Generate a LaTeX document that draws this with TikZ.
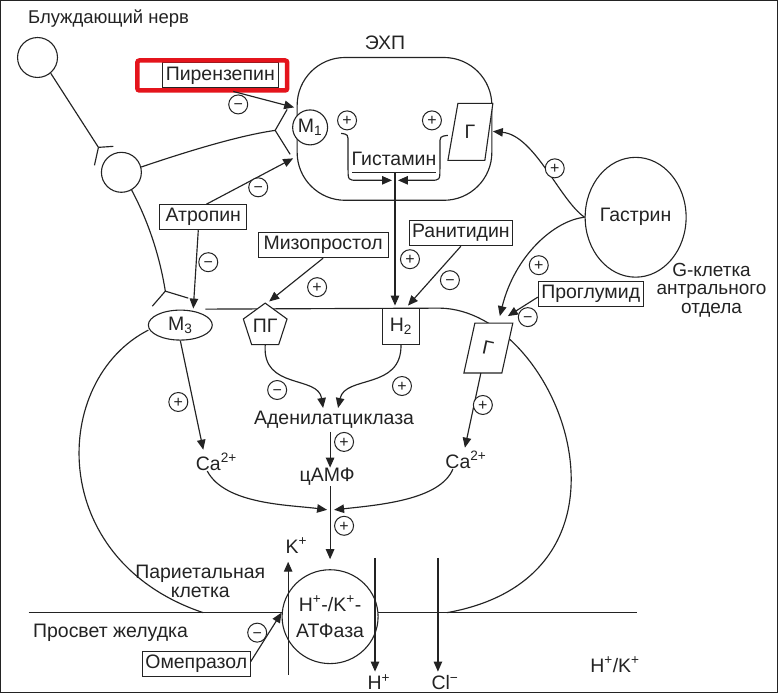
\documentclass[tikz,border=0pt]{standalone}
\usepackage{fontspec}
\setmainfont{Liberation Sans}
\usetikzlibrary{arrows.meta,shapes.geometric,calc}
\definecolor{ink}{RGB}{35,35,35}
\definecolor{hilite}{RGB}{228,20,28}
\begin{document}
\begin{tikzpicture}[x=1pt,y=-1pt,
  every node/.style={font=\fontsize{19.5}{20}\selectfont,inner sep=0pt,text=ink},
  every path/.style={draw=ink,line width=1.15pt},
  arr/.style={-{Triangle[length=10pt,width=8.5pt]}},
  drug/.style={draw=ink,fill=white,line width=1pt,minimum height=25pt,inner xsep=3pt},
  pm/.style={circle,draw=ink,line width=1pt,fill=white,minimum width=17pt,minimum height=19pt,
    font=\fontsize{16}{16}\selectfont,text height=11pt,text depth=0pt},
  cellc/.style={circle,draw=ink,line width=1.1pt},
  recep/.style={draw=ink,fill=white,line width=1.1pt}]

\useasboundingbox[fill=white] (0,0) rectangle (778,693);

% ---------- vagus nerve ----------
\node[anchor=west,font=\fontsize{18.5}{20}\selectfont] (vagus) at (27,18) {Блуждающий нерв};
\node[cellc,minimum width=40pt,minimum height=40pt] (n1) at (37,57) {};
\node[cellc,minimum width=40pt,minimum height=37pt] (n2) at (121,172) {};
\coordinate (y1) at (98,147);
\coordinate (y2) at (275,130);
\coordinate (y3) at (165,291);
\draw (n1.-50) -- (y1);
\draw (y1) -- (113,146) (y1) -- (94,165);
\draw (n2.15) .. controls (190,150) and (240,135) .. (y2);
\draw (y2) -- (287,109) (y2) -- (290,154);
\draw (n2.-60) .. controls (150,225) and (160,260) .. (y3);
\draw (y3) -- (152,306) (y3) -- (188,298);

% ---------- ECL cell ----------
\node (ecl) at (385,42) {ЭХП};
\draw[rounded corners=48pt] (297,57) rectangle (492,200);
\node[circle,recep,minimum size=35pt] (m1) at (310,127) {M\textsubscript{1}};
\draw[recep] (458,103) -- (493,103) -- (485,160) -- (448,160) -- cycle;
\node (ge) at (470,131) {Г};
\node[pm] (p1) at (347,120) {+};
\node[pm] (p2) at (432,120) {+};
\node (hist) at (394,159) {Гистамин};
\coordinate (hl) at (352,172);
\coordinate (hr) at (436,172);
\coordinate (hm) at (395,172);
\draw (hl) -- (hr);
\coordinate (jl) at (392,180);
\coordinate (jr) at (398,180);
\draw[arr] (341,133) .. controls (348,134) .. (348,143) -- (348,168)
  .. controls (348,180) .. (358,180) -- (jl);
\draw[arr] (448,135) .. controls (440,136) .. (440,145) -- (440,168)
  .. controls (440,180) .. (430,180) -- (jr);

% ---------- drugs acting on the M1 receptor ----------
\node[drug,minimum width=116pt] (pir) at (220,75) {Пирензепин};
\draw[draw=hilite,line width=4.5pt,rounded corners=2pt] (137,60) rectangle (287,90);
\coordinate (m1a) at (294,107);
\coordinate (m1b) at (293,158);
\draw[arr] ($(pir.south)+(13,3)$) -- (m1a);
\node[pm] (pm1) at (238,104) {−};
\node[drug,minimum width=87pt] (atr) at (203,217) {Атропин};
\draw[arr] ($(atr.north)+(3,0)$) -- (m1b);
\node[pm] (pm2) at (258,187) {−};

% ---------- gastrin ----------
\node[ellipse,draw=ink,line width=1.1pt,minimum width=88pt,minimum height=120pt] (gas) at (636,217) {Гастрин};
\node[align=center,font=\fontsize{19}{18.5}\selectfont] (gcell) at (712,290) {G-клетка\\антрального\\отдела};
\coordinate (gea) at (493,131);
\draw[arr] (gas.west) .. controls (560,200) and (535,135) .. (gea);
\node[pm] (pg1) at (555,168) {+};

% ---------- parietal cell ----------
\draw (148,330) .. controls (50,380) and (45,560) .. (203,613);
\draw (205,309) -- (440,308) .. controls (560,310) and (660,575) .. (447,613);
\draw (28,613) -- (637,613);
\node[ellipse,recep,minimum width=64pt,minimum height=30pt] (m3) at (180,325) {M\textsubscript{3}};
\node[regular polygon,regular polygon sides=5,recep,minimum size=46pt] (pgr) at (265,326) {ПГ};
\node[recep,minimum width=37pt,minimum height=36pt] (h2) at (401,326) {H\textsubscript{2}};
\draw[recep] (475,323) -- (513,323) -- (502,373) -- (464,373) -- cycle;
\node[rotate=-12] (gp) at (488,348) {Г};

\draw[arr] ($(atr.south)+(-5,0)$) -- ($(m3.north)+(13,-1)$);
\node[pm] (pm3) at (208,262) {−};

\node[drug,minimum width=130pt] (miz) at (323,245) {Мизопростол};
\draw[arr] (miz.south) -- ($(pgr.north)+(4,-1)$);
\node[pm] (pp1) at (317,287) {+};

\draw[arr] (hm) -- ($(h2.north)+(-6,-2)$);
\node[pm] (pp2) at (410,259) {+};
\node[drug,minimum width=102pt] (ran) at (461,233) {Ранитидин};
\draw[arr] (ran.south) -- ($(h2.north)+(7,-2)$);
\node[pm] (pm4) at (450,280) {−};

\coordinate (gpa) at (500,316);
\coordinate (gpb) at (508,316);
\draw[arr] (gas.west) .. controls (555,220) and (515,255) .. (gpa);
\node[pm] (pg2) at (539,265) {+};
\node[drug,minimum width=105pt] (prog) at (591,294) {Проглумид};
\draw[arr] ($(prog.west)+(0,3)$) -- (gpb);
\node[pm] (pm5) at (528,317) {−};

% ---------- second messengers ----------
\node (ac) at (334,420) {Аденилатциклаза};
\coordinate (aca) at (323,408);
\coordinate (acb) at (338,408);
\draw[arr] (pgr.south) .. controls (262,390) and (318,375) .. (aca);
\draw[arr] (h2.south) .. controls (402,390) and (345,375) .. (acb);
\node[pm] (pm6) at (277,390) {−};
\node[pm] (pp3) at (402,386) {+};

\node (camp) at (327,477) {цАМФ};
\draw[arr] (330,432) -- (camp.north -| 330,0);
\node[pm] (pp4) at (344,442) {+};

\node[anchor=west] (cal) at (195,462) {Ca\textsuperscript{2+}};
\node[anchor=west] (car) at (445,460) {Ca\textsuperscript{2+}};
\draw[arr] (m3.south) -- ($(cal.north west)+(8,-3)$);
\node[pm] (pp5) at (178,402) {+};
\draw[arr] (481,373) -- ($(car.north west)+(20,-3)$);
\node[pm] (pp6) at (483,405) {+};

\coordinate (ja) at (327,510);
\coordinate (jb) at (334,510);
\draw[arr] ($(cal.south west)+(12,0)$) .. controls (225,505) and (290,505) .. (ja);
\draw[arr] ($(car.south west)+(8,0)$) .. controls (440,500) and (380,505) .. (jb);

% ---------- proton pump ----------
\node[ellipse,recep,minimum width=84pt,minimum height=94pt,align=center,
  font=\fontsize{19.5}{26}\selectfont] (atp) at (330,617) {H\textsuperscript{+}-/K\textsuperscript{+}-\\АТФаза};
\draw[arr] (camp.south -| 330,0) -- ($(atp.north)+(0,-10)$);
\node[pm] (pp7) at (344,526) {+};

\coordinate (kb) at (288,675);
\coordinate (kt) at (288,562);
\draw[arr] (kb) -- (kt);
\node[anchor=west] (kp) at (285,546) {K\textsuperscript{+}};
\coordinate (ht) at (375,558);
\draw[arr] (ht) -- (375,672);
\node[anchor=base west] (hp) at (367,690) {H\textsuperscript{+}};
\coordinate (ct) at (438,558);
\draw[arr] (ct) -- (438,672);
\node[anchor=base west] (cl) at (431,690) {Cl\textsuperscript{−}};
\node[anchor=west] (hk) at (590,665) {H\textsuperscript{+}/K\textsuperscript{+}};

\node[align=center,font=\fontsize{19.5}{19}\selectfont] (pc) at (200,582) {Париетальная\\клетка};
\node[anchor=west] (lum) at (32,633) {Просвет желудка};

\node[drug,minimum width=105pt] (ome) at (196,664) {Омепразол};
\draw[arr] ($(ome.east)+(0,-2)$) -- ($(atp.west)+(0,-4)$);
\node[pm] (pm7) at (257,633) {−};
\end{tikzpicture}
\end{document}
